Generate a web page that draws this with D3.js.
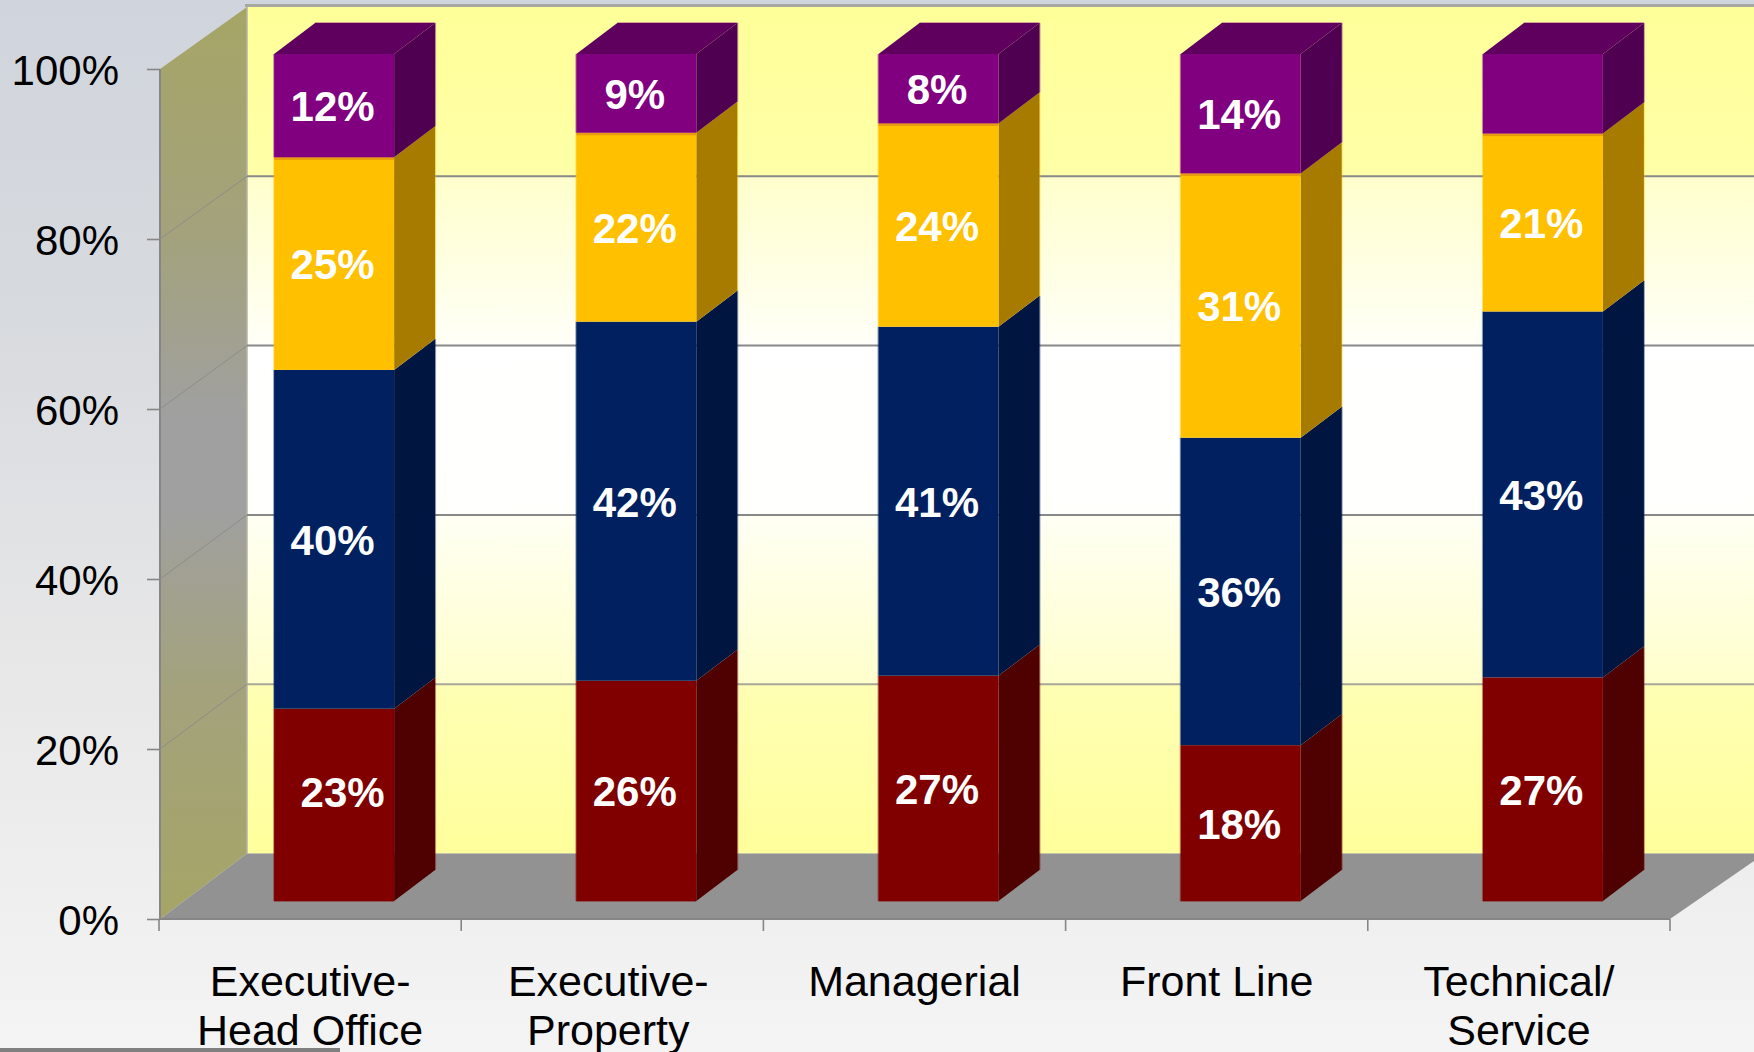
<!DOCTYPE html>
<html><head><meta charset="utf-8">
<script src="https://cdn.jsdelivr.net/npm/d3@7/dist/d3.min.js"></script>
<style>html,body{margin:0;padding:0;background:#f3f3f3;overflow:hidden}svg{display:block}text{font-family:"Liberation Sans",Arial,sans-serif}</style>
</head><body>
<script>
const categories = ["Executive-\nHead Office","Executive-\nProperty","Managerial","Front Line","Technical/\nService"];
const seriesNames = ["red","navy","gold","purple"];
const redValues    = [22.7,26.0,26.6,18.4,26.4];
const navyValues   = [40.0,42.4,41.2,36.3,43.2];
const goldValues   = [25.1,22.3,24.0,31.2,21.0];
const purpleValues = [12.2,9.3,8.2,14.1,9.4];
const redLabels    = ["23%","26%","27%","18%","27%"];
const navyLabels   = ["40%","42%","41%","36%","43%"];
const goldLabels   = ["25%","22%","24%","31%","21%"];
const purpleLabels = ["12%","9%","8%","14%",""];
const tickValues = [0,20,40,60,80,100];

const W=1754,H=1052;
const svg=d3.select("body").append("svg").attr("width",W).attr("height",H);
const defs=svg.append("defs");
function grad(id,stops){
  const g=defs.append("linearGradient").attr("id",id).attr("x1",0).attr("y1",0).attr("x2",0).attr("y2",1);
  stops.forEach(s=>g.append("stop").attr("offset",s[0]).attr("stop-color",s[1]));
}
grad("bg",[[0,"#d0d4dc"],[0.3,"#d7dade"],[0.6,"#e6e6e7"],[1,"#f4f4f4"]]);
grad("wall",[[0,"#ffff99"],[0.2,"#ffffa8"],[0.2,"#ffffcc"],[0.4,"#fffff8"],[0.4,"#ffffff"],[0.6,"#fffffc"],[0.6,"#fffff4"],[0.8,"#ffffcc"],[0.8,"#ffffb4"],[1,"#ffff9c"]]);
grad("side",[[0,"#a6a566"],[0.25,"#a3a27c"],[0.45,"#a0a0a0"],[0.55,"#a0a0a0"],[0.75,"#a3a27c"],[1,"#a6a566"]]);

// 3-D frame: front plane, back wall and the mid plane that carries the bars
const frontL=160, frontR=1671, backL=247;
const y=d3.scaleLinear().domain([0,100]).range([919,69]);
const yBack=d3.scaleLinear().domain([0,100]).range([853.5,7]);
const yBar=d3.scaleLinear().domain([0,100]).range([901,54]);
const barDx=41, barDy=-31, barW=120, barOffX=23;
const x=d3.scaleBand().domain(categories).range([frontL,frontR]);

svg.append("rect").attr("width",W).attr("height",H).attr("fill","url(#bg)");
const toPts=pts=>pts.map(p=>p.join(",")).join(" ");
const poly=(pts,fill)=>svg.append("polygon").attr("points",toPts(pts)).attr("fill",fill);

svg.append("rect").attr("x",backL-2).attr("y",yBack(100)-3).attr("width",W).attr("height",3).attr("fill","#a8a8a2");
svg.append("rect").attr("x",backL).attr("y",yBack(100)).attr("width",W).attr("height",yBack(0)-yBack(100)).attr("fill","url(#wall)");
poly([[frontL,y(0)],[frontL,y(100)],[backL,yBack(100)],[backL,yBack(0)]],"url(#side)");
poly([[frontL,y(0)],[backL,yBack(0)],[W+5,yBack(0)],[W+5,yBack(0)+4],[frontR-1,y(0)]],"#929292");
svg.append("line").attr("x1",frontL).attr("x2",frontR-1).attr("y1",y(0)).attr("y2",y(0)).attr("stroke","#868686").attr("stroke-width",2);
svg.append("line").attr("x1",frontL).attr("x2",frontL).attr("y1",y(0)).attr("y2",y(100)).attr("stroke","#868686").attr("stroke-width",2);
svg.append("line").attr("x1",backL).attr("x2",backL).attr("y1",yBack(100)).attr("y2",yBack(0)).attr("stroke","#b4b4a4").attr("stroke-width",1.5);

tickValues.filter(t=>t>0&&t<100).forEach(t=>{
  svg.append("polyline").attr("fill","none").attr("stroke","#8c8c8c").attr("stroke-width",1)
    .attr("points",toPts([[frontL,y(t)],[backL,yBack(t)]]));
  svg.append("line").attr("x1",backL).attr("x2",W).attr("y1",yBack(t)).attr("y2",yBack(t))
    .attr("stroke",t===20?"#a8a89a":"#888888").attr("stroke-width",2);
});

// axes
const yAxis=d3.axisLeft(y).tickValues(tickValues).tickFormat(d=>d+"%").tickSize(13).tickPadding(28);
const gy=svg.append("g").attr("transform",`translate(${frontL},0)`).call(yAxis);
gy.select(".domain").remove();
gy.selectAll("line").attr("stroke","#868686").attr("stroke-width",1.6);
gy.selectAll("text").attr("font-size",42).attr("fill","#000").attr("font-family",'"Liberation Sans"').attr("dy",15);

const xEdges=categories.map(c=>x(c)).concat([frontR]);
svg.append("g").selectAll("line").data(xEdges).join("line").attr("x1",d=>d-1).attr("x2",d=>d-1).attr("y1",y(0)).attr("y2",y(0)+12).attr("stroke","#868686").attr("stroke-width",1.6);

// bars
const table=categories.map((c,i)=>({cat:c,red:redValues[i],navy:navyValues[i],gold:goldValues[i],purple:purpleValues[i]}));
const stacked=d3.stack().keys(seriesNames)(table);
const colors={red:["#800000","#4f0000"],navy:["#002060","#001540"],gold:["#ffc000","#a67b00"],purple:["#800080","#500050"]};
const topColor="#5f005f";
const labelSets={red:redLabels,navy:navyLabels,gold:goldLabels,purple:purpleLabels};
const barX=c=>x(c)+(x.bandwidth()-barW)/2+barOffX;

// pale edge round each bar, then the faces
categories.forEach(c=>{
  const L=barX(c),R=L+barW,T=yBar(100),B=yBar(0);
  stacked.forEach(s=>{
    const i=categories.indexOf(c),[a,b]=s[i],col=colors[s.key][0];
    svg.append("path").attr("fill","none").attr("stroke",col).attr("stroke-opacity",0.4).attr("stroke-width",2)
      .attr("d",`M${L},${yBar(a)}V${yBar(b)}M${R+barDx},${yBar(a)+barDy}V${yBar(b)+barDy}`);
  });
  svg.append("path").attr("fill","none").attr("stroke",colors.purple[0]).attr("stroke-opacity",0.35).attr("stroke-width",2)
    .attr("d",`M${L+barDx},${T+barDy}H${R+barDx}`);
  svg.append("path").attr("fill","none").attr("stroke",colors.red[0]).attr("stroke-opacity",0.4).attr("stroke-width",2)
    .attr("d",`M${L},${B}H${R}`);
});
categories.forEach((c,i)=>{
  stacked.forEach((s,si)=>{
    const [a,b]=s[i], col=colors[s.key], L=barX(c), R=L+barW, T=yBar(b), B=yBar(a);
    poly([[R,B],[R+barDx,B+barDy],[R+barDx,T+barDy],[R,T]],col[1]);
    if(si===stacked.length-1) poly([[L,T],[L+barDx,T+barDy],[R+barDx,T+barDy],[R,T]],topColor);
    svg.append("rect").attr("x",L).attr("y",T).attr("width",barW).attr("height",B-T).attr("fill",col[0]);
    if(s.key==="gold") svg.append("rect").attr("x",L).attr("y",T).attr("width",barW).attr("height",2.5).attr("fill","#e89a10");
  });
});
// data labels
const shiftedLabelDx=10, shiftedLabelDy=-13;
stacked.forEach(s=>{
  categories.forEach((c,i)=>{
    const t=labelSets[s.key][i]; if(!t) return;
    const moved=s.key==="red"&&i===0;
    svg.append("text").attr("x",barX(c)+barW/2-1.5+(moved?shiftedLabelDx:0))
      .attr("y",yBar((s[i][0]+s[i][1])/2)+15.5+(moved?shiftedLabelDy:0))
      .attr("text-anchor","middle").attr("font-size",42).attr("font-weight","bold").attr("fill","#fff").text(t);
  });
});
// category labels
const catBaseline=996, catLead=49;
categories.forEach((c,i)=>{
  const nudge=i===1?-5:-1;
  const txt=svg.append("text").attr("text-anchor","middle").attr("font-size",43).attr("fill","#000");
  c.split("\n").forEach((p,k)=>txt.append("tspan").attr("x",x(c)+x.bandwidth()/2+nudge).attr("y",catBaseline+k*catLead).text(p));
});
svg.append("rect").attr("x",0).attr("y",1048).attr("width",340).attr("height",4).attr("fill","#808080");
</script>
</body></html>
